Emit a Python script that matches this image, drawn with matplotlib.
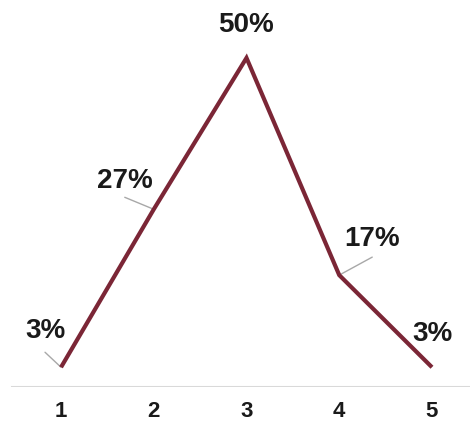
import matplotlib
matplotlib.use("Agg")
import matplotlib.pyplot as plt

# --- dados -----------------------------------------------------------------
categories = [1, 2, 3, 4, 5]
values = [3, 27, 50, 17, 3]
labels = ["3%", "27%", "50%", "17%", "3%"]

# deslocamentos (pixels) dos rótulos e das linhas-guia
label_offsets = [(-16, 36), (-29, 28), (0, 33), (33, 36), (0, 33)]
leader_offsets = [(-16, 15), (-29, 12), None, (33, 18), None]

LINE_COLOR = "#7B2636"
LEADER_COLOR = "#A8A8A8"

plt.rcParams['font.family'] = ['Liberation Sans', 'DejaVu Sans']

fig = plt.figure(figsize=(4.70, 4.24), dpi=100)
ax = fig.add_axes([0, 1 - 387 / 424, 1, 387 / 424])

ax.plot(categories, values, color=LINE_COLOR, lw=3, solid_capstyle='butt',
        solid_joinstyle='miter', zorder=3)

for x, v, lab, off, lead in zip(categories, values, labels, label_offsets, leader_offsets):
    if lead is not None:
        ax.annotate('', xy=(x, v), xytext=lead, textcoords='offset pixels',
                    arrowprops=dict(arrowstyle='-', color=LEADER_COLOR, lw=1,
                                    shrinkA=0, shrinkB=0), zorder=2)
    ax.annotate(lab, xy=(x, v), xytext=off, textcoords='offset pixels',
                ha='center', va='center', fontsize=20, fontweight='bold',
                color='#1a1a1a')

ax.set_xlim(0.342, 5.41)
ax.set_ylim(0, 58.8)
ax.axhline(0, xmin=12 / 470, color='#D9D9D9', lw=1.5, zorder=1)

for s in ax.spines.values():
    s.set_visible(False)
ax.set_yticks([])
ax.set_xticks(categories)
ax.set_xticklabels([str(c) for c in categories], fontsize=16, fontweight='bold',
                   color='#1a1a1a')
ax.tick_params(axis='x', length=0, pad=10)

fig.savefig("out.png", dpi=100)
